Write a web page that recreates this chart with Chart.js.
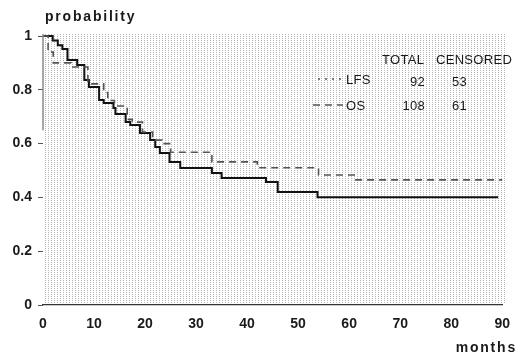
<!DOCTYPE html>
<html>
<head>
<meta charset="utf-8">
<script src="https://cdn.jsdelivr.net/npm/chart.js@4"></script>
<style>
  html, body { margin: 0; padding: 0; background: #fff; }
  canvas { display: block; }
</style>
</head>
<body>
<canvas id="km" width="521" height="359"></canvas>
<script>
// survival curves (months, probability)
const lfsMonths = [0, 1.9, 2.9, 3.8, 4.8, 6.7, 8.1, 9.0, 11.0, 11.9, 13.8, 14.2, 16.2, 17.1, 19.0, 21.0, 22.0, 22.9, 24.8, 26.9, 33.1, 35.0, 43.7, 46.0, 53.8, 89.2];
const lfsSurv = [1.0, 0.983, 0.966, 0.952, 0.911, 0.892, 0.836, 0.810, 0.762, 0.751, 0.732, 0.710, 0.680, 0.669, 0.639, 0.613, 0.587, 0.565, 0.532, 0.509, 0.491, 0.472, 0.457, 0.420, 0.401, 0.401];

const osMonths = [0, 1.0, 2.0, 5.5, 8.8, 11.9, 12.7, 14.0, 16.5, 17.5, 19.5, 21.5, 23.3, 25.0, 33.1, 42.0, 54.0, 61.0, 90];
const osSurv = [1.0, 0.94, 0.90, 0.885, 0.822, 0.79, 0.76, 0.74, 0.69, 0.68, 0.643, 0.613, 0.60, 0.568, 0.532, 0.51, 0.483, 0.465, 0.465];

const xTicks = [0, 10, 20, 30, 40, 50, 60, 70, 80, 90];
const yTicks = [0, 0.2, 0.4, 0.6, 0.8, 1];
const yTickLabels = ['0', '0.2', '0.4', '0.6', '0.8', '1'];

const legendHead = ['TOTAL', 'CENSORED'];
const legendNames = ['LFS', 'OS'];
const legendTotal = [92, 108];
const legendCensored = [53, 61];

const toPoints = (xs, ys) => xs.map((x, i) => ({ x: x, y: ys[i] }));

// scanned-paper dot texture behind the curves
const dotTexture = {
  id: 'dotTexture',
  beforeDatasetsDraw(chart) {
    const { ctx, chartArea } = chart;
    const tile = document.createElement('canvas');
    tile.width = 3; tile.height = 2;
    const t = tile.getContext('2d');
    t.fillStyle = 'rgba(110,110,110,0.5)';
    t.fillRect(0, 0, 1, 1);
    ctx.save();
    ctx.fillStyle = ctx.createPattern(tile, 'repeat');
    ctx.fillRect(chartArea.left + 2, chartArea.top - 3, chartArea.right - chartArea.left + 2, chartArea.bottom - chartArea.top + 1);
    ctx.restore();
  }
};

const extras = {
  id: 'extras',
  afterDraw(chart) {
    const { ctx } = chart;
    const x = chart.scales.x, y = chart.scales.y;
    ctx.save();

    // faint left axis, only visible at the top in the scan
    ctx.strokeStyle = '#8a8a8a';
    ctx.lineWidth = 1.5;
    ctx.beginPath();
    ctx.moveTo(x.left, y.getPixelForValue(1) - 2);
    ctx.lineTo(x.left, y.getPixelForValue(0.65));
    ctx.stroke();

    ctx.fillStyle = '#1a1a1a';
    ctx.font = 'bold 14px "Liberation Sans", Arial, sans-serif';
    ctx.letterSpacing = '1.8px';
    ctx.textBaseline = 'middle';
    ctx.textAlign = 'left';
    ctx.fillText('probability', 45, 17);
    ctx.textAlign = 'right';
    ctx.fillText('months', 517, 348);

    // legend table
    ctx.letterSpacing = '0.3px';
    ctx.font = '13px "Liberation Sans", Arial, sans-serif';
    ctx.fillStyle = '#1a1a1a';
    ctx.textAlign = 'left';
    ctx.fillText(legendHead[0], 382, 60);
    ctx.fillText(legendHead[1], 436, 60);
    const rowY = [80, 106];
    legendNames.forEach((name, i) => {
      ctx.textAlign = 'left';
      ctx.fillText(name, 346, rowY[i]);
      ctx.textAlign = 'right';
      ctx.fillText(String(legendTotal[i]), 425, rowY[i] + (i === 0 ? 2 : 0));
      ctx.fillText(String(legendCensored[i]), 467, rowY[i] + (i === 0 ? 2 : 0));
    });
    // line samples
    ctx.lineWidth = 1.5;
    ctx.strokeStyle = '#555';
    ctx.setLineDash([2, 5]);
    ctx.beginPath();
    ctx.moveTo(318, 79); ctx.lineTo(344, 79);
    ctx.stroke();
    ctx.setLineDash([7, 5]);
    ctx.beginPath();
    ctx.moveTo(313, 105); ctx.lineTo(343, 105);
    ctx.stroke();
    ctx.restore();
  }
};

new Chart(document.getElementById('km'), {
  type: 'line',
  data: {
    datasets: [
      {
        label: 'OS',
        data: toPoints(osMonths, osSurv),
        borderColor: '#555',
        borderWidth: 1.6,
        borderDash: [7, 5],
        stepped: 'before',
        pointRadius: 0,
        fill: false,
      },
      {
        label: 'LFS',
        data: toPoints(lfsMonths, lfsSurv),
        borderColor: '#111',
        borderWidth: 2,
        stepped: 'before',
        pointRadius: 0,
        fill: false,
      },
    ],
  },
  options: {
    responsive: false,
    animation: false,
    clip: false,
    layout: { padding: { left: 0, right: 10, top: 36, bottom: 0 } },
    plugins: {
      legend: { display: false },
      tooltip: { enabled: false },
    },
    scales: {
      x: {
        type: 'linear',
        min: 0,
        max: 90,
        afterBuildTicks: (scale) => { scale.ticks = xTicks.map(v => ({ value: v })); },
        afterFit: (scale) => { scale.height = 54; },
        grid: { display: false, drawTicks: false },
        border: { display: true, color: '#333', width: 1.2 },
        ticks: {
          padding: 11,
          color: '#1a1a1a',
          font: { family: '"Liberation Sans", Arial, sans-serif', size: 14, weight: 'bold' },
          maxRotation: 0,
        },
      },
      y: {
        min: 0,
        max: 1,
        afterBuildTicks: (scale) => { scale.ticks = yTicks.map(v => ({ value: v })); },
        afterFit: (scale) => { scale.width = 43; },
        grid: { drawOnChartArea: false, drawTicks: true, tickLength: 5, color: '#555' },
        border: { display: false },
        ticks: {
          padding: 6,
          color: '#1a1a1a',
          font: { family: '"Liberation Sans", Arial, sans-serif', size: 14, weight: 'bold' },
          callback: (value) => {
            const i = yTicks.findIndex(t => Math.abs(t - value) < 1e-6);
            return i >= 0 ? yTickLabels[i] : '';
          },
        },
      },
    },
  },
  plugins: [dotTexture, extras],
});
</script>
</body>
</html>
